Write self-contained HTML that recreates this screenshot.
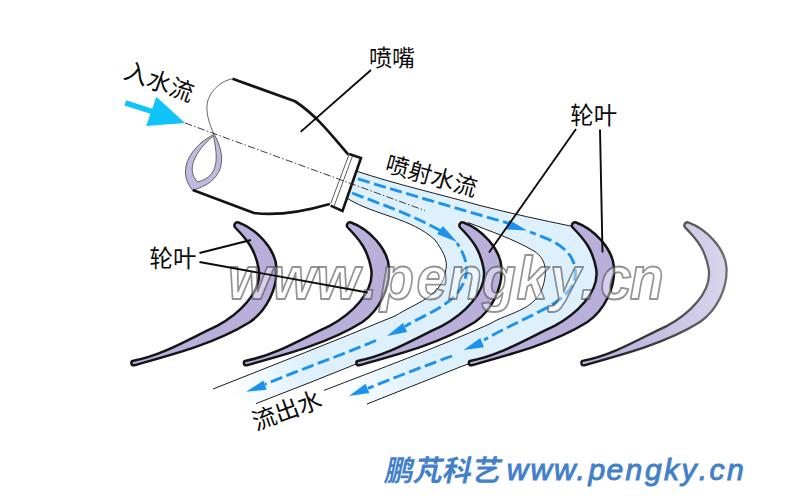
<!DOCTYPE html>
<html><head><meta charset="utf-8"><title>nozzle</title>
<style>html,body{margin:0;padding:0;background:#fff;}body{width:800px;height:500px;overflow:hidden;font-family:"Liberation Sans",sans-serif;}svg{display:block}</style>
</head><body>
<svg width="800" height="500" viewBox="0 0 800 500">
<defs>
<linearGradient id="g5" gradientUnits="userSpaceOnUse" x1="140" y1="0" x2="275" y2="0"><stop offset="0" stop-color="#b8afdb"/><stop offset="0.45" stop-color="#c5bde1"/><stop offset="1" stop-color="#d9d5ec"/></linearGradient>
<linearGradient id="g5s" gradientUnits="userSpaceOnUse" x1="140" y1="0" x2="275" y2="0"><stop offset="0" stop-color="#161616"/><stop offset="0.5" stop-color="#3c3c3c"/><stop offset="1" stop-color="#6e6e6e"/></linearGradient>
<linearGradient id="fade1" gradientUnits="userSpaceOnUse" x1="305" y1="360" x2="228" y2="391"><stop offset="0" stop-color="#ddf0fc"/><stop offset="1" stop-color="#ffffff"/></linearGradient>
<linearGradient id="fade2" gradientUnits="userSpaceOnUse" x1="415" y1="362" x2="338" y2="393"><stop offset="0" stop-color="#ddf0fc"/><stop offset="1" stop-color="#ffffff"/></linearGradient>
<path id="blade" d="M238.5 222.5C256 228.9 275.5 248.2 276.5 268C277.6 288.3 266.7 310.4 250 322C215.6 343.4 172.8 354.5 134 365.3A2.3 2.3 0 0 1 133.4 360.7C163.5 355 190 338.3 217.5 325.6C236.5 315.4 263.3 292.8 258.5 268C254.9 249.6 248 240.6 235.2 227.5A3.1 3.1 0 0 1 238.5 222.5Z"/>
</defs>
<rect width="800" height="500" fill="#fff"/>
<path d="M356 171C396.8 184.5 438.7 194 480 205.5C510.7 213.4 541.9 220.2 573 226.5L573 227L572.7 227.5C585.5 240.6 592.4 249.6 596 268C600.8 292.8 574 315.4 555 325.6C527.5 338.3 501 355 470.9 360.7L471 363L367 404L324 390.4C379.6 368.9 435.6 348.2 490 323.8C507 313.3 533.9 310.6 542 289C546.9 275 548.1 260 534 251C513.2 238.9 490.3 231.3 468 222.5L440 205Z" fill="url(#fade2)"/>
<path d="M356 171L470 205L459.2 225.5L460.2 227.5C473 240.6 479.9 249.6 483.5 268C488.3 292.8 461.5 315.4 442.5 325.6C415 338.3 388.5 355 358.4 360.7L358.5 363L256 403.6L213 389C274.2 364.7 335.4 340.9 396 315.5C414.2 303.7 442.2 296.4 445.6 271C448.9 259.5 441.2 248.8 435 240C411.6 218 374.8 215.3 348 198.8Z" fill="url(#fade1)"/>
<path d="M356 171C396.8 184.5 438.7 194 480 205.5C510.7 213.4 541.9 220.2 573 226.5" fill="none" stroke="#1c1c1c" stroke-width="1"/>
<path d="M348 198.8C374.8 215.3 411.6 218 435 240C441.2 248.8 448.9 259.5 445.6 271C442.2 296.4 414.2 303.7 396 315.5C335.4 340.9 274.2 364.7 213 389" fill="none" stroke="#1c1c1c" stroke-width="1"/>
<path d="M358.5 363L350 366.5L310 382.5L256 403.6" fill="none" stroke="#1c1c1c" stroke-width="1"/>
<path d="M468 222.5C490.3 231.3 513.2 238.9 534 251C548.1 260 546.9 275 542 289C533.9 310.6 507 313.3 490 323.8C435.6 348.2 379.6 368.9 324 390.4" fill="none" stroke="#1c1c1c" stroke-width="1"/>
<path d="M471 363L460 367L420 383L367 404" fill="none" stroke="#1c1c1c" stroke-width="1"/>
<path d="M352 193C382.2 204.6 412.7 215.2 441 231" fill="none" stroke="#1b93ee" stroke-width="2.9" stroke-dasharray="12.2 4.6"/>
<path d="M457 243C462.9 252.1 468 262.8 466.2 274C460.7 304 427.4 312.3 405 326.5" fill="none" stroke="#1b93ee" stroke-width="2.9" stroke-dasharray="12.2 4.6" stroke-dashoffset="8"/>
<path d="M376 340.5C339.3 356 301.7 368.9 265 384.3" fill="none" stroke="#1b93ee" stroke-width="2.9" stroke-dasharray="12.2 4.6"/>
<path d="M358 178.8C408 194.5 458.7 208.7 509 223.5" fill="none" stroke="#1b93ee" stroke-width="2.9" stroke-dasharray="12.2 4.6"/>
<path d="M530 232C544.9 237.6 561.7 242.9 571 257C583.3 279.2 568.7 295 550 306C528.3 317.9 505.5 327.6 484 340" fill="none" stroke="#1b93ee" stroke-width="2.9" stroke-dasharray="12.2 4.6" stroke-dashoffset="6"/>
<path d="M452 356C423.8 366.2 395.8 377.1 368 388.4" fill="none" stroke="#1b93ee" stroke-width="2.9" stroke-dasharray="12.2 4.6"/>
<path d="M457 242L437.1 234.1L442.9 225.9Z" fill="#1b93ee"/>
<path d="M527 230.5L506.4 229.4L509.3 220Z" fill="#1b93ee"/>
<path d="M387 336L403 323L407.2 331.9Z" fill="#1b93ee"/>
<path d="M246.2 391.8L263.4 380.5L266.7 389.7Z" fill="#1b93ee"/>
<path d="M463.5 350L480.3 338.1L483.9 347.3Z" fill="#1b93ee"/>
<path d="M349 396L365.6 383.8L369.4 392.9Z" fill="#1b93ee"/>
<use href="#blade" x="0" fill="#b8afdb" stroke="#141414" stroke-width="2.5" stroke-linejoin="round"/>
<use href="#blade" x="112.5" fill="#b8afdb" stroke="#141414" stroke-width="2.5" stroke-linejoin="round"/>
<use href="#blade" x="225" fill="#b8afdb" stroke="#141414" stroke-width="2.5" stroke-linejoin="round"/>
<use href="#blade" x="337.5" fill="#b8afdb" stroke="#141414" stroke-width="2.5" stroke-linejoin="round"/>
<g transform="translate(450 0)"><use href="#blade" fill="url(#g5)" stroke="url(#g5s)" stroke-width="2.3" stroke-linejoin="round"/></g>
<path d="M214.2 134.3C193.5 144.4 174.8 168.6 192.5 190.2C222.5 182.2 228.6 160.1 214.2 134.3ZM213.5 136C201.5 145.2 182.7 167.5 197.8 182C221.4 175.7 216.8 154.2 213.5 136Z" fill="#bfbae0" fill-rule="evenodd" stroke="#555" stroke-width="0.9" stroke-linejoin="round"/>
<path d="M232.5 78.8C221.3 80.8 211.8 89.4 208 100C204.6 109.9 209.5 125.4 214.2 134.3" fill="none" stroke="#555" stroke-width="0.9"/>
<path d="M232.5 78.75L295 101.25C316.3 115.2 331.9 135.6 348.3 154.6" fill="none" stroke="#141414" stroke-width="2.7" stroke-linejoin="round" stroke-linecap="butt"/>
<path d="M192.8 190L254 213C279.6 216.4 305.3 211.1 329.8 204" fill="none" stroke="#141414" stroke-width="2.7" stroke-linejoin="round" stroke-linecap="butt"/>
<path d="M349.2 154L361 158L342.5 211L330.6 205.6" fill="#fff" stroke="#141414" stroke-width="2.6" stroke-linejoin="miter"/>
<path d="M349.2 154L330.6 203.8M352.8 155.2L333.8 206.8" fill="none" stroke="#333" stroke-width="0.8"/>
<path d="M185 123L425 210.6" fill="none" stroke="#3a3030" stroke-width="0.95" stroke-dasharray="7.5 2.2 1.5 2.2"/>
<path d="M185 123L146.2 125.9L150.4 113.8L124.4 105.4L126.2 100.3L152.2 108.7L156.3 96.8Z" fill="#10c4fa"/>
<g transform="translate(228 299) scale(0.975 1.065)"><text x="0 45.4 90.9 137.4 155.9 193.3 225.6 260.5 295.9 330.3 361.5 382.1 412" y="0" font-family="Liberation Sans, sans-serif" font-style="italic" font-weight="bold" font-size="57" fill="#fff" fill-opacity="0.42" stroke="#404040" stroke-opacity="0.56" stroke-width="1.75" stroke-linejoin="round">www.pengky.cn</text></g>
<path d="M371 70L300.6 131.9" stroke="#0c0c0c" stroke-width="1.9" fill="none"/>
<path d="M576 129L489 252.5" stroke="#0c0c0c" stroke-width="1.9" fill="none"/>
<path d="M600 129.5L602.5 252.5" stroke="#0c0c0c" stroke-width="1.9" fill="none"/>
<path d="M199.5 253L251 240" stroke="#0c0c0c" stroke-width="1.9" fill="none"/>
<path d="M199.5 262L367.5 292.5" stroke="#0c0c0c" stroke-width="1.9" fill="none"/>
<text transform="translate(369 66)" x="0" y="0" font-family="'Liberation Sans', 'Noto Sans CJK SC', sans-serif" font-size="23" fill="#0c0c0c">喷嘴</text>
<text transform="translate(570.3 124.3)" x="0" y="0" font-family="'Liberation Sans', 'Noto Sans CJK SC', sans-serif" font-size="23.5" fill="#0c0c0c">轮叶</text>
<text transform="translate(149.6 266.6)" x="0" y="0" font-family="'Liberation Sans', 'Noto Sans CJK SC', sans-serif" font-size="23.5" fill="#0c0c0c">轮叶</text>
<text transform="translate(122.5 77.5) rotate(20)" x="0" y="0" font-family="'Liberation Sans', 'Noto Sans CJK SC', sans-serif" font-size="24" fill="#0c0c0c">入水流</text>
<text transform="translate(384 171.3) rotate(15.7)" x="0" y="0" font-family="'Liberation Sans', 'Noto Sans CJK SC', sans-serif" font-size="23.5" fill="#0c0c0c">喷射水流</text>
<text transform="translate(256 430.8) rotate(-20)" x="0" y="0" font-family="'Liberation Sans', 'Noto Sans CJK SC', sans-serif" font-size="24" fill="#0c0c0c">流出水</text>
<text transform="translate(383.5 481.3) skewX(-12)" x="0" y="0" font-family="'Liberation Sans', 'Noto Sans CJK SC', sans-serif" font-size="29" font-weight="bold" fill="#4380cb">鹏芃科艺</text>
<text x="506.8 530.4 554 576.6 588.4 606.5 625.6 644.9 664.1 681.4 698.8 709.6 727" y="480" font-family="Liberation Sans, sans-serif" font-style="italic" font-size="30" style="font-kerning:none" fill="#4380cb" stroke="#4380cb" stroke-width="0.95">www.pengky.cn</text>
</svg>
</body></html>
